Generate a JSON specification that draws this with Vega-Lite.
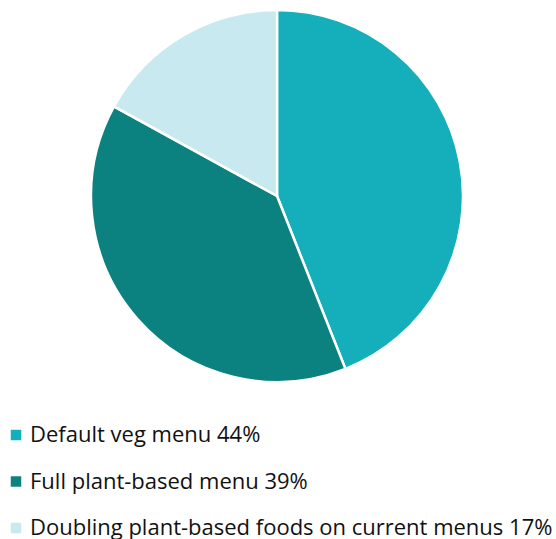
{
  "$schema": "https://vega.github.io/schema/vega-lite/v6.json",
  "width": 554,
  "height": 372,
  "padding": {"top": 5, "left": 0, "right": 0, "bottom": 0},
  "background": "white",
  "data": {
    "values": [
      {"category": "Default veg menu 44%", "value": 44},
      {"category": "Full plant-based menu 39%", "value": 39},
      {"category": "Doubling plant-based foods on current menus 17%", "value": 17}
    ]
  },
  "mark": {"type": "arc", "stroke": "white", "strokeWidth": 2.5},
  "encoding": {
    "theta": {"field": "value", "type": "quantitative", "stack": true},
    "order": {"field": "value", "type": "quantitative", "sort": "descending"},
    "color": {
      "field": "category",
      "type": "nominal",
      "scale": {
        "domain": ["Default veg menu 44%", "Full plant-based menu 39%", "Doubling plant-based foods on current menus 17%"],
        "range": ["#14AFBA", "#0C8280", "#C8E9EF"]
      },
      "legend": {
        "orient": "none",
        "legendX": 5,
        "legendY": 414,
        "title": null,
        "symbolType": "square",
        "symbolSize": 110,
        "symbolStrokeWidth": 0,
        "labelFont": "Open Sans",
        "labelFontSize": 22,
        "labelColor": "#111111",
        "labelOffset": 3,
        "labelLimit": 0,
        "rowPadding": 24.5
      }
    }
  },
  "config": {"view": {"stroke": null}}
}
